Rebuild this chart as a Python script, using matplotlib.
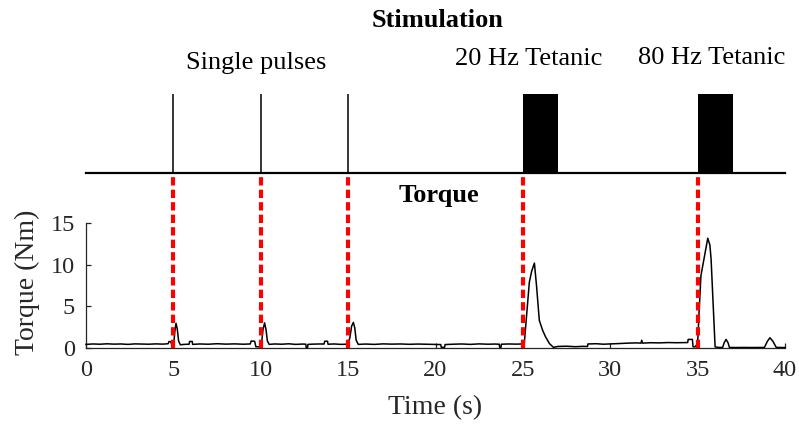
import matplotlib
matplotlib.use('Agg')
import matplotlib.pyplot as plt

plt.rcParams['font.family'] = ['Liberation Serif', 'DejaVu Serif']

# stimulation protocol (s)
pulse_times = [5, 10, 15]
train_starts = [25, 35]
train_length = [2, 2]
onsets = [5, 10, 15, 25, 35]

# torque trace
torque_time = [
    0.0, 0.4, 0.8, 1.2, 1.6, 2.0, 2.4, 2.8, 3.2, 3.6,
    4.0, 4.4, 4.7, 4.75, 4.85, 4.92, 5.02, 5.08, 5.15, 5.22,
    5.30, 5.40, 5.60, 5.90, 5.93, 6.08, 6.10, 6.50, 7.00, 7.50,
    8.00, 8.50, 9.00, 9.40, 9.45, 9.65, 9.72, 9.95, 10.05, 10.13,
    10.22, 10.30, 10.38, 10.48, 10.80, 11.20, 11.60, 12.00, 12.40, 12.58,
    12.60, 12.68, 12.70, 13.00, 13.40, 13.62, 13.66, 13.82, 13.85, 14.20,
    14.60, 14.98, 15.10, 15.20, 15.30, 15.38, 15.46, 15.58, 16.00, 16.50,
    17.00, 17.50, 18.00, 18.50, 19.00, 19.50, 20.00, 20.30, 20.33, 20.52,
    20.55, 21.00, 21.50, 22.00, 22.50, 23.00, 23.40, 23.65, 23.67, 23.75,
    23.77, 24.20, 24.60, 24.98, 25.08, 25.20, 25.37, 25.50, 25.66, 25.78,
    25.94, 26.13, 26.30, 26.52, 26.75, 27.00, 27.50, 28.00, 28.40, 28.70,
    28.72, 29.20, 29.60, 30.00, 30.50, 31.00, 31.50, 31.76, 31.80, 31.85,
    32.30, 32.80, 33.30, 33.80, 34.30, 34.43, 34.46, 34.70, 34.74, 34.85,
    35.00, 35.10, 35.19, 35.38, 35.58, 35.70, 35.77, 35.90, 36.00, 36.20,
    36.43, 36.52, 36.63, 36.74, 36.82, 37.20, 37.60, 38.00, 38.40, 38.82,
    39.00, 39.14, 39.30, 39.50, 39.80, 40.00,
]
torque_nm = [
    0.40, 0.45, 0.42, 0.47, 0.43, 0.45, 0.40, 0.46, 0.44, 0.42,
    0.46, 0.43, 0.48, 0.75, 0.72, 0.30, 0.40, 1.90, 2.95, 2.30,
    0.80, 0.35, 0.40, 0.42, 0.75, 0.75, 0.40, 0.45, 0.42, 0.48,
    0.43, 0.46, 0.42, 0.45, 0.80, 0.78, 0.12, 0.10, 0.60, 2.20,
    3.00, 2.20, 0.80, 0.40, 0.45, 0.42, 0.47, 0.40, 0.44, 0.42,
    0.02, 0.02, 0.40, 0.43, 0.45, 0.44, 0.78, 0.78, 0.42, 0.45,
    0.40, 0.43, 1.20, 2.60, 3.05, 2.40, 0.90, 0.40, 0.44, 0.40,
    0.46, 0.43, 0.45, 0.41, 0.44, 0.42, 0.40, 0.38, 0.05, 0.05,
    0.38, 0.42, 0.45, 0.40, 0.46, 0.42, 0.44, 0.42, 0.05, 0.05,
    0.42, 0.45, 0.43, 0.45, 0.50, 3.50, 7.90, 9.20, 10.20, 7.50,
    3.30, 2.10, 1.30, 0.50, 0.04, 0.15, 0.18, 0.12, 0.16, 0.15,
    0.45, 0.48, 0.42, 0.45, 0.50, 0.55, 0.58, 0.55, 0.90, 0.55,
    0.60, 0.58, 0.62, 0.60, 0.62, 0.62, 1.00, 1.00, 0.10, 0.10,
    0.50, 5.00, 8.70, 10.90, 13.20, 12.40, 10.70, 4.70, 0.10, 0.03,
    0.03, 0.60, 1.00, 0.60, 0.03, 0.02, 0.03, 0.02, 0.03, 0.03,
    0.80, 1.20, 0.80, 0.03, 0.02, 0.02,
]

ink = '#262626'
W, H = 799, 429
x0, x1 = 86, 785
y_zero, y_top = 347.7, 223.3
stim_base, stim_top = 173.3, 94

fig = plt.figure(figsize=(W / 100, H / 100), dpi=100)

# torque panel
ax = fig.add_axes([x0 / W, 1 - y_zero / H, (x1 - x0) / W, (y_zero - y_top) / H])
ax.plot(torque_time, torque_nm, color='black', lw=1.1, clip_on=False, zorder=3)
ax.set_xlim(0, 40)
ax.set_ylim(0, 15)
ax.set_xticks(range(0, 41, 5))
ax.set_yticks([0, 5, 10, 15])
for s in ['top', 'right']:
    ax.spines[s].set_visible(False)
for s in ['left', 'bottom']:
    ax.spines[s].set_color(ink)
    ax.spines[s].set_linewidth(0.9)
ax.tick_params(direction='in', length=3.5, width=0.9, colors=ink,
               labelsize=17.5, labelcolor=ink)
ax.tick_params(axis='x', pad=9)
ax.tick_params(axis='y', pad=8)
ax.set_xlabel('Time (s)', fontsize=20, color=ink)
ax.set_ylabel('Torque (Nm)', fontsize=20, color=ink)
ax.xaxis.set_label_coords(0.5, -0.38)
ax.yaxis.set_label_coords(-0.066, 0.528)

# red dashed onset markers linking both panels
reach = (y_zero - stim_base) / (y_zero - y_top)
for t in onsets:
    ax.axvline(t, ymin=0, ymax=reach, color='red', lw=3, ls=(0, (2, 1)),
               clip_on=False, zorder=4)

# stimulation panel
ax_s = fig.add_axes([x0 / W, 1 - stim_base / H, (x1 - x0) / W, (stim_base - stim_top) / H])
ax_s.set_xlim(0, 40)
ax_s.set_ylim(0, 1)
ax_s.axis('off')
ax_s.plot([0, 40], [0, 0], color='black', lw=1.6, clip_on=False)
ax_s.vlines(pulse_times, 0, 1, color='black', lw=1.1)
ax_s.bar(train_starts, 1, width=train_length, align='edge', color='black')

fig.text(438 / W, 1 - 26.7 / H, 'Stimulation', ha='center', va='baseline',
         fontsize=19, fontweight='bold')
fig.text(439 / W, 1 - 201.7 / H, 'Torque', ha='center', va='baseline',
         fontsize=19, fontweight='bold')
fig.text(256.5 / W, 1 - 69 / H, 'Single pulses', ha='center', va='baseline', fontsize=19)
fig.text(529 / W, 1 - 65 / H, '20 Hz Tetanic', ha='center', va='baseline', fontsize=19)
fig.text(712 / W, 1 - 63.5 / H, '80 Hz Tetanic', ha='center', va='baseline', fontsize=19)

fig.savefig('out.png', dpi=100)
